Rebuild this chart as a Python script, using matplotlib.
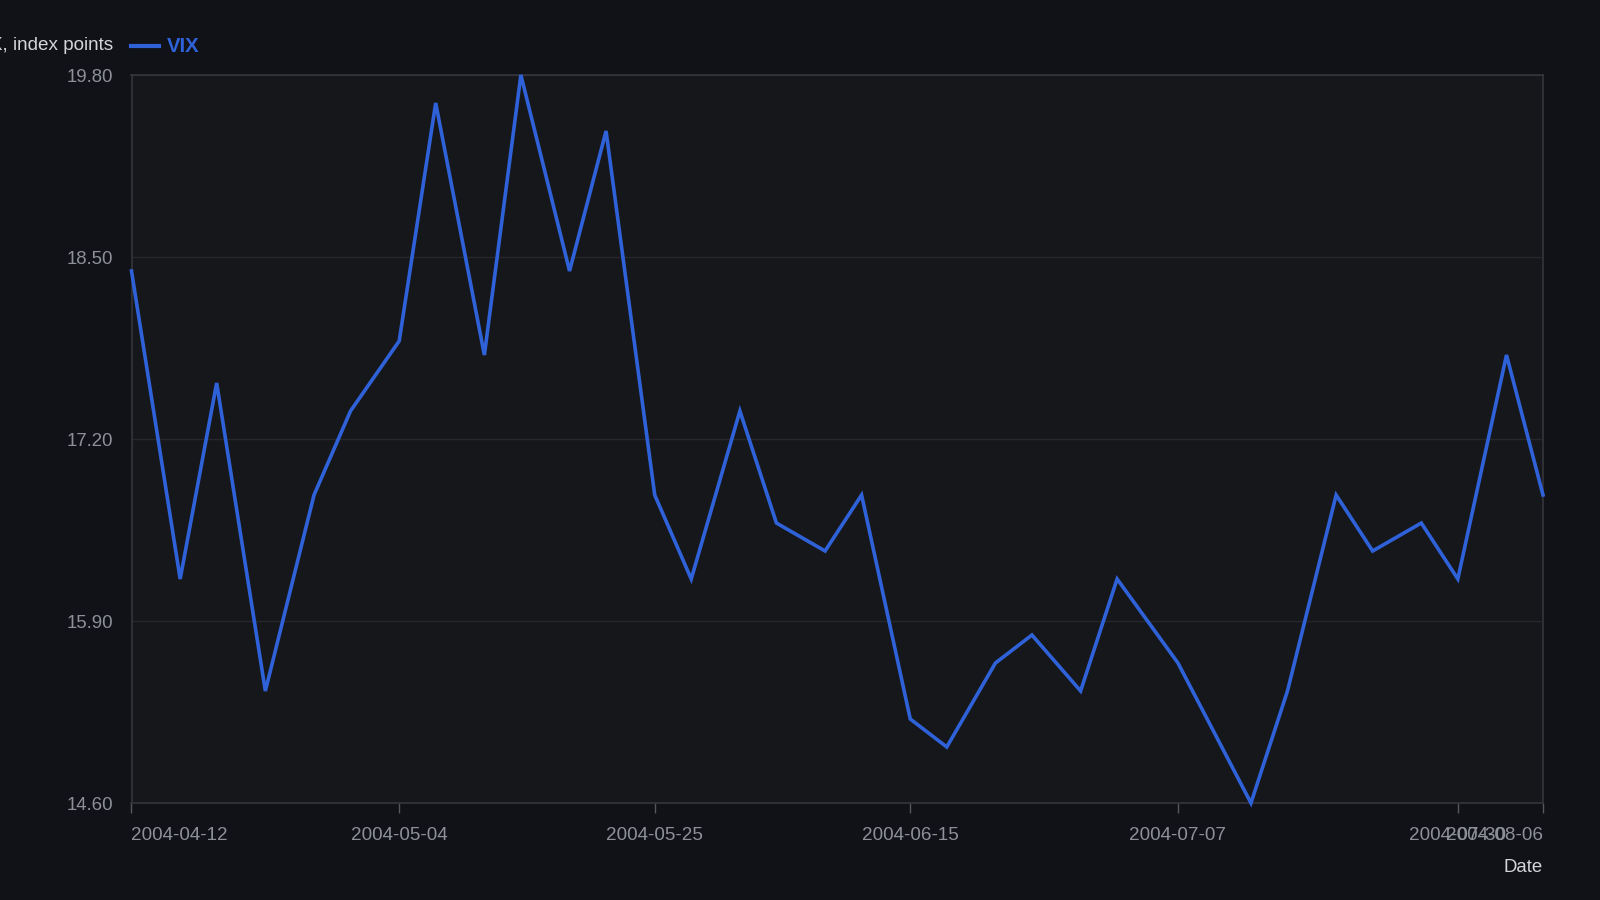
import matplotlib
matplotlib.use("Agg")
import matplotlib.pyplot as plt
import matplotlib.dates as mdates
import numpy as np
import pandas as pd

dates = ["2004-04-12", "2004-04-16", "2004-04-19", "2004-04-23", "2004-04-27", "2004-04-30",
         "2004-05-04", "2004-05-07", "2004-05-11", "2004-05-14", "2004-05-18", "2004-05-21",
         "2004-05-25", "2004-05-28", "2004-06-01", "2004-06-04", "2004-06-08", "2004-06-11",
         "2004-06-15", "2004-06-18", "2004-06-22", "2004-06-25", "2004-06-29", "2004-07-02",
         "2004-07-07", "2004-07-13", "2004-07-16", "2004-07-20", "2004-07-23", "2004-07-27",
         "2004-07-30", "2004-08-03", "2004-08-06"]
vix = [18.40, 16.20, 17.60, 15.40, 16.80, 17.40, 17.90, 19.60, 17.80, 19.80, 18.40, 19.40,
       16.80, 16.20, 17.40, 16.60, 16.40, 16.80, 15.20, 15.00, 15.60, 15.80, 15.40, 16.20,
       15.60, 14.60, 15.40, 16.80, 16.40, 16.60, 16.20, 17.80, 16.80]
y_ticks = [14.60, 15.90, 17.20, 18.50, 19.80]
x_tick_labels = ["2004-04-12", "2004-05-04", "2004-05-25", "2004-06-15", "2004-07-07",
                 "2004-07-30", "2004-08-06"]
series_name = "VIX"
y_label = "VIX, index points"
x_label = "Date"

plt.rcParams["font.family"] = ["Liberation Sans", "DejaVu Sans"]

fig_bg = "#111217"
ax_bg = "#16171b"
line_color = "#2f62d9"
grid_color = "#25272c"
spine_color = "#34363c"
tick_color = "#8e9099"

x = pd.to_datetime(dates)

fig = plt.figure(figsize=(16, 9), dpi=100, facecolor=fig_bg)
ax = fig.add_axes([131.5 / 1600, 1 - 803 / 900, (1543 - 131.5) / 1600, (803 - 75) / 900])
ax.set_facecolor(ax_bg)

ax.plot(x, vix, color=line_color, linewidth=2.6, solid_joinstyle="miter", zorder=3, clip_on=False)

ax.set_ylim(y_ticks[0], y_ticks[-1])
ax.set_xlim(x[0], x[-1])
ax.set_yticks(y_ticks)
ax.set_yticklabels([f"{v:.2f}" for v in y_ticks])
ax.grid(axis="y", color=grid_color, linewidth=1.0)
ax.grid(axis="x", visible=False)

xt = pd.to_datetime(x_tick_labels)
ax.set_xticks(mdates.date2num(xt))
ax.set_xticklabels(x_tick_labels)

ax.tick_params(axis="y", length=0, pad=13.3, labelsize=13.4, labelcolor=tick_color)
ax.tick_params(axis="x", length=7, width=1, color="#55575d", pad=10, labelsize=13.6,
               labelcolor=tick_color)
labels = ax.get_xticklabels()
labels[0].set_ha("left")
labels[-1].set_ha("right")

for s in ax.spines.values():
    s.set_color(spine_color)
    s.set_linewidth(1.2)

fig.text(113 / 1600, 1 - 45.5 / 900, y_label, ha="right", va="center", fontsize=13.6,
         color="#d4d5d8")
fig.text(1543 / 1600, 1 - 868 / 900, x_label, ha="right", va="center", fontsize=13.4,
         color="#d4d5d8")

fig.add_artist(plt.Line2D([131 / 1600, 159 / 1600], [1 - 46 / 900, 1 - 46 / 900],
                          color=line_color, linewidth=3))
fig.text(167 / 1600, 1 - 46 / 900, series_name, ha="left", va="center", fontsize=14.6,
         fontweight="bold", color=line_color)

fig.savefig("out.png", dpi=100, facecolor=fig_bg)
